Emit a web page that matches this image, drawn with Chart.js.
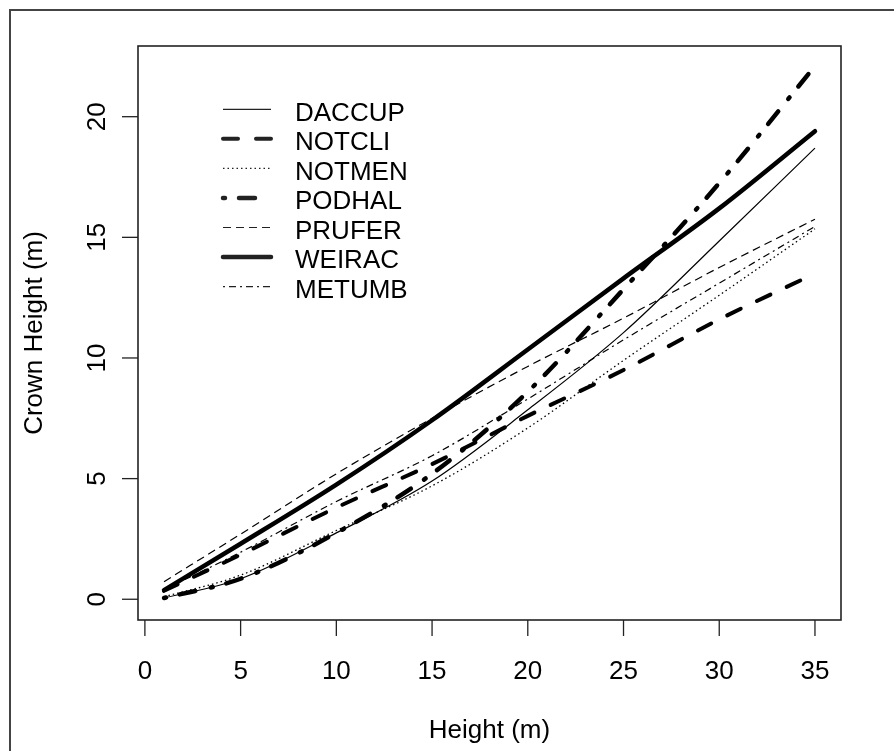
<!DOCTYPE html>
<html>
<head>
<meta charset="utf-8">
<script src="https://cdn.jsdelivr.net/npm/chart.js@4/dist/chart.umd.min.js"></script>
<style>
  html, body { margin: 0; padding: 0; background: #fff; }
  canvas { display: block; }
</style>
</head>
<body>
<canvas id="crown_chart" width="894" height="751"></canvas>
<script>
// tree height (m) and fitted crown height (m) per species
var heights = [1, 5, 10, 15, 20, 25, 30, 35];
var daccup = [0.05, 0.85, 2.75, 4.9, 7.85, 11.05, 14.85, 18.7];
var notcli = [0.35, 1.85, 3.8, 5.6, 7.6, 9.5, 11.6, 13.5];
var notmen = [0.1, 1.0, 2.85, 4.7, 7.1, 9.9, 12.6, 15.35];
var podhal = [0.05, 0.85, 2.75, 5.2, 8.6, 12.85, 17.25, 22.1];
var prufer = [0.73, 2.7, 5.2, 7.5, 9.65, 11.65, 13.75, 15.75];
var weirac = [0.38, 2.3, 4.75, 7.42, 10.35, 13.3, 16.2, 19.4];
var metumb = [0.4, 1.95, 4.05, 5.95, 8.3, 10.75, 13.1, 15.45];

var speciesNames = ["DACCUP", "NOTCLI", "NOTMEN", "PODHAL", "PRUFER", "WEIRAC", "METUMB"];
var xTicks = [0, 5, 10, 15, 20, 25, 30, 35];
var yTicks = [0, 5, 10, 15, 20];

var series = [daccup, notcli, notmen, podhal, prufer, weirac, metumb];

// line look, same order as speciesNames
var lineStyles = [
  { width: 1.2, dash: [], cap: 'butt' },
  { width: 4, dash: [15, 18], cap: 'round' },
  { width: 1.3, dash: [1.5, 3], cap: 'butt' },
  { width: 4.5, dash: [2, 14, 16, 16], cap: 'round' },
  { width: 1.2, dash: [8, 5], cap: 'butt' },
  { width: 4.5, dash: [], cap: 'round' },
  { width: 1.2, dash: [2, 4, 7, 4], cap: 'butt' }
];

var FONT = '26px "Liberation Sans", Arial, sans-serif';

var datasets = series.map(function (vals, i) {
  return {
    label: speciesNames[i],
    data: vals.map(function (v, j) { return { x: heights[j], y: v }; }),
    borderColor: '#000',
    borderWidth: lineStyles[i].width,
    borderDash: lineStyles[i].dash,
    borderCapStyle: lineStyles[i].cap,
    borderJoinStyle: 'round',
    pointRadius: 0,
    fill: false,
    cubicInterpolationMode: 'monotone'
  };
});

// R style frame, axes, labels and legend
var rFrame = {
  id: 'rFrame',
  beforeDraw: function (chart) {
    var c = chart.ctx;
    c.save();
    c.fillStyle = '#fff';
    c.fillRect(0, 0, chart.width, chart.height);
    c.restore();
  },
  afterDraw: function (chart) {
    var c = chart.ctx;
    var a = chart.chartArea;
    var xs = chart.scales.x, ys = chart.scales.y;
    c.save();

    // outer figure border
    c.strokeStyle = '#444';
    c.lineWidth = 2;
    c.strokeRect(10, 10, 900, 760);

    // plot box
    c.strokeStyle = '#222';
    c.lineWidth = 1.6;
    c.strokeRect(a.left, a.top, a.right - a.left, a.bottom - a.top);

    c.fillStyle = '#000';
    c.font = FONT;

    // x axis ticks + labels
    c.lineWidth = 1.3;
    c.textAlign = 'center';
    c.textBaseline = 'alphabetic';
    xTicks.forEach(function (t) {
      var px = xs.getPixelForValue(t);
      c.beginPath();
      c.moveTo(px, a.bottom);
      c.lineTo(px, a.bottom + 16);
      c.stroke();
      c.fillText(String(t), px, 679);
    });

    // y axis ticks + rotated labels
    yTicks.forEach(function (t) {
      var py = ys.getPixelForValue(t);
      c.beginPath();
      c.moveTo(a.left, py);
      c.lineTo(a.left - 16, py);
      c.stroke();
      c.save();
      c.translate(104.5, py);
      c.rotate(-Math.PI / 2);
      c.fillText(String(t), 0, 0);
      c.restore();
    });

    // axis titles
    c.fillText('Height (m)', (a.left + a.right) / 2, 738);
    c.save();
    c.translate(42, (a.top + a.bottom) / 2);
    c.rotate(-Math.PI / 2);
    c.fillText('Crown Height (m)', 0, 0);
    c.restore();

    // legend
    c.textAlign = 'left';
    speciesNames.forEach(function (name, i) {
      var ly = 109.3 + i * 29.55;
      var st = lineStyles[i];
      c.save();
      c.lineWidth = st.width;
      c.setLineDash(st.dash);
      c.lineCap = st.cap;
      c.beginPath();
      c.moveTo(223, ly);
      c.lineTo(271, ly);
      c.stroke();
      c.restore();
      c.fillText(name, 295, ly + 11.3);
    });

    c.restore();
  }
};

var ctx = document.getElementById('crown_chart').getContext('2d');
var crown_chart = new Chart(ctx, {
  type: 'line',
  data: { datasets: datasets },
  options: {
    responsive: false,
    animation: false,
    devicePixelRatio: 1,
    layout: { padding: { left: 138, top: 46, right: 53, bottom: 131 } },
    plugins: { legend: { display: false }, tooltip: { enabled: false } },
    scales: {
      x: { type: 'linear', min: -0.36, max: 36.36, display: false },
      y: { type: 'linear', min: -0.86, max: 22.93, display: false }
    }
  },
  plugins: [rFrame]
});
</script>
</body>
</html>
